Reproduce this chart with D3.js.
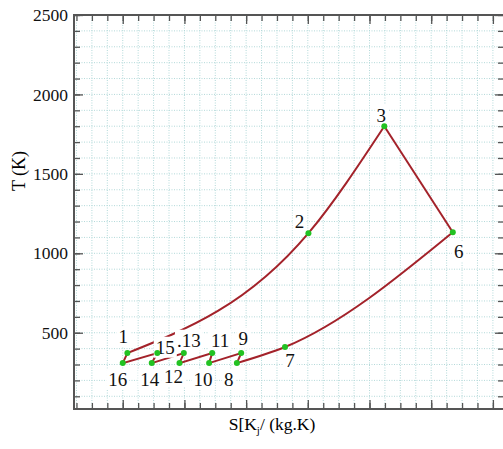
<!DOCTYPE html>
<meta charset="utf-8">
<style>
body { margin: 0; background: #fff; }
svg text { font-family: "Liberation Serif", "DejaVu Serif", serif; }
.grid line { stroke: #b3d9d9; stroke-width: 1px; stroke-dasharray: 1,1.5; }
.frame { fill: none; stroke: #555; stroke-width: 2px; }
.axis path { display: none; }
.axis line { stroke: #555; stroke-width: 1.3px; }
.axis text { font-size: 17.5px; fill: #111; font-family: "Liberation Serif", serif; }
.cycle { fill: none; stroke: #a3222a; stroke-width: 2px; }
.pt { fill: #22c222; }
.lbl { font-size: 19px; fill: #111; }
</style>
<svg width="503" height="449"></svg>
<script src="https://d3js.org/d3.v7.min.js"></script>
<script>

// state points of the cycle, in drawing order
var states = ["1", "2", "3", "6", "7", "8", "9", "10", "11", "12", "13", "14", "15", "16"];
var entropy = [1.075, 4.01, 5.24, 6.35, 3.63, 2.85, 2.92, 2.40, 2.45, 1.92, 1.99, 1.47, 1.56, 1.00];
var temperature = [372, 1127, 1800, 1133, 410, 309, 372, 309, 372, 309, 372, 309, 372, 309];
var pointText = ["1", "2", "3", "6", "7", "8", "9", "10", "11", "12", ".13", "14", "15", "16"];

var yTicks = [500, 1000, 1500, 2000, 2500];
var xMajor = [1, 2, 3, 4, 5, 6, 7];

// label offsets from their point (layout only)
var labelOffset = {
  "1": [-4, -17], "2": [-9, -12], "3": [-3, -11], "6": [6, 19], "7": [5, 13],
  "8": [-8, 16], "9": [2, -15], "10": [-6, 16], "11": [8, -13], "12": [-6, 13],
  "13": [5, -13], "14": [-2, 16], "15": [8, -6], "16": [-5, 16]
};

var svg = d3.select("svg"),
    margin = {top: 15, left: 74},
    width = 430,
    height = 394;

var x = d3.scaleLinear().domain([0.21, 7.18]).range([0, width]),
    y = d3.scaleLinear().domain([20, 2500]).range([height, 0]);

var pts = states.map(function(s, i) {
  return {name: s, text: pointText[i], s: entropy[i], T: temperature[i]};
});
var byName = {};
pts.forEach(function(p) { byName[p.name] = p; });

var g = svg.append("g")
    .attr("transform", "translate(" + margin.left + "," + margin.top + ")");

var xMinor = d3.range(0.25, 7.18, 0.25),
    yMinor = d3.range(100, 2501, 100);

// grid
var grid = g.append("g").attr("class", "grid");
grid.selectAll(".gv").data(xMinor).enter().append("line")
    .attr("x1", function(d) { return x(d); }).attr("x2", function(d) { return x(d); })
    .attr("y1", 0).attr("y2", height);
grid.selectAll(".gh").data(yMinor).enter().append("line")
    .attr("y1", function(d) { return y(d); }).attr("y2", function(d) { return y(d); })
    .attr("x1", 0).attr("x2", width);

// axes, ticks pointing inward on all sides
g.append("g").attr("class", "axis")
    .call(d3.axisLeft(y).tickValues(yTicks).tickFormat(d3.format("d"))
      .tickSizeInner(-9).tickSizeOuter(0).tickPadding(6));
g.append("g").attr("class", "axis")
    .call(d3.axisLeft(y).tickValues(yMinor).tickFormat("").tickSizeInner(-6).tickSizeOuter(0));
g.append("g").attr("class", "axis").attr("transform", "translate(" + width + ",0)")
    .call(d3.axisRight(y).tickValues(yTicks).tickFormat("").tickSizeInner(-9).tickSizeOuter(0));
g.append("g").attr("class", "axis").attr("transform", "translate(" + width + ",0)")
    .call(d3.axisRight(y).tickValues(yMinor).tickFormat("").tickSizeInner(-6).tickSizeOuter(0));
g.append("g").attr("class", "axis").attr("transform", "translate(0," + height + ")")
    .call(d3.axisBottom(x).tickValues(xMajor).tickFormat("").tickSizeInner(-9).tickSizeOuter(0));
g.append("g").attr("class", "axis").attr("transform", "translate(0," + height + ")")
    .call(d3.axisBottom(x).tickValues(xMinor).tickFormat("").tickSizeInner(-6).tickSizeOuter(0));
g.append("g").attr("class", "axis")
    .call(d3.axisTop(x).tickValues(xMajor).tickFormat("").tickSizeInner(-9).tickSizeOuter(0));
g.append("g").attr("class", "axis")
    .call(d3.axisTop(x).tickValues(xMinor).tickFormat("").tickSizeInner(-6).tickSizeOuter(0));

g.append("rect").attr("class", "frame").attr("width", width).attr("height", height);

// cycle lines
var curve = d3.line()
    .x(function(d) { return x(d.s); })
    .y(function(d) { return y(d.T); })
    .curve(d3.curveMonotoneX);
var straight = d3.line()
    .x(function(d) { return x(d.s); })
    .y(function(d) { return y(d.T); });

function pick(names) { return names.map(function(n) { return byName[n]; }); }

g.append("path").attr("class", "cycle").attr("d", curve(pick(["1", "2", "3"])));
g.append("path").attr("class", "cycle").attr("d", straight(pick(["3", "6"])));
g.append("path").attr("class", "cycle").attr("d", curve(pick(["8", "7", "6"])));
g.append("path").attr("class", "cycle")
    .attr("d", straight(pick(["8", "9", "10", "11", "12", "13", "14", "15", "16", "1"])));

// labels with white boxes
var lab = g.selectAll(".lab").data(pts).enter().append("g")
    .attr("transform", function(d) {
      var o = labelOffset[d.name];
      return "translate(" + (x(d.s) + o[0]) + "," + (y(d.T) + o[1]) + ")";
    });
lab.append("text").attr("class", "lbl")
    .attr("text-anchor", "middle").attr("dy", "0.35em")
    .text(function(d) { return d.text; });
lab.each(function() {
  var t = d3.select(this).select("text"), b = t.node().getBBox();
  d3.select(this).insert("rect", "text")
      .attr("x", b.x - 2).attr("y", b.y)
      .attr("width", b.width + 4).attr("height", b.height)
      .attr("fill", "#fff");
});

// points
g.selectAll(".pt").data(pts).enter().append("circle")
    .attr("class", "pt")
    .attr("cx", function(d) { return x(d.s); })
    .attr("cy", function(d) { return y(d.T); })
    .attr("r", 3);

// axis titles
svg.append("text")
    .attr("transform", "translate(25,171) rotate(-90)")
    .attr("text-anchor", "middle")
    .style("font-size", "18px")
    .text("T (K)");

var xt = svg.append("text")
    .attr("x", 272).attr("y", 430)
    .attr("text-anchor", "middle")
    .style("font-size", "17.5px");
xt.append("tspan").text("S[K");
xt.append("tspan").attr("dy", 4).style("font-size", "11px").text("j");
xt.append("tspan").attr("dy", -4).text("/ (kg.K)");

</script>
